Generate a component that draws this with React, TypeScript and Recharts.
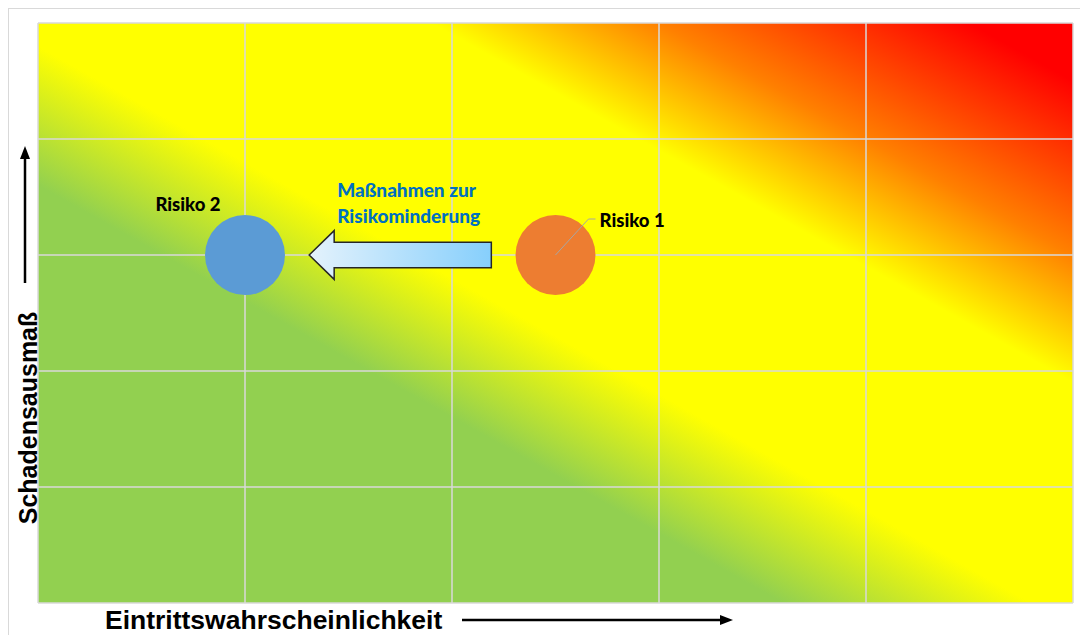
import { CartesianGrid, ReferenceArea, Scatter, ScatterChart, XAxis, YAxis } from "recharts";

const gridTicks = [0, 1, 2, 3, 4, 5];
const risk1 = [{ x: 2.5, y: 3, name: "Risiko 1" }];
const risk2 = [{ x: 1, y: 3, name: "Risiko 2" }];
const arrowX = [1.31, 2.19];
const arrowY = [2.79, 3.21];
const measureLines = ["Maßnahmen zur", "Risikominderung"];
const xTitle = "Eintrittswahrscheinlichkeit";
const yTitle = "Schadensausmaß";

const labelFont = "Lato, 'Open Sans', sans-serif";

function RiskBubble(props: any) {
  const { cx, cy, payload, fill, side } = props;
  return (
    <g>
      <circle cx={cx} cy={cy} r={40} fill={fill} />
      {side === "right" ? (
        <>
          <polyline
            points={`${cx},${cy} ${cx + 33},${cy - 36} ${cx + 40},${cy - 36}`}
            fill="none"
            stroke="#a6a6a6"
            strokeWidth={1}
          />
          <text x={cx + 44} y={cy - 28} fontFamily={labelFont} fontWeight={900} fontSize={18.5} fill="#000">
            {payload.name}
          </text>
        </>
      ) : (
        <text x={cx - 57} y={cy - 44} textAnchor="middle" fontFamily={labelFont} fontWeight={900} fontSize={18.5} fill="#000">
          {payload.name}
        </text>
      )}
    </g>
  );
}

function BlockArrow(props: any) {
  const { x, y, width, height } = props;
  const hl = 25;
  const st = y + height * 0.24;
  const sb = y + height * 0.76;
  const d = `M${x},${y + height / 2} L${x + hl},${y} L${x + hl},${st} L${x + width},${st} L${x + width},${sb} L${x + hl},${sb} L${x + hl},${y + height} Z`;
  return (
    <g>
      <path d={d} fill="url(#arrowGrad)" stroke="#262626" strokeWidth={1.5} strokeLinejoin="miter" />
      {measureLines.map((line, i) => (
        <text
          key={line}
          x={x + 28}
          y={y - 34 + i * 26}
          fontFamily={labelFont}
          fontWeight={900}
          fontSize={19}
          fill="#0070c0"
        >
          {line}
        </text>
      ))}
    </g>
  );
}

export default function App() {
  return (
    <div
      style={{
        position: "relative",
        width: 1100,
        height: 640,
        borderTop: "1px solid #d9d9d9",
        borderLeft: "1px solid #d9d9d9",
        overflow: "visible",
      }}
    >
      <div style={{ position: "absolute", left: -9, top: -9 }}>
        <ScatterChart width={1088} height={635} margin={{ top: 23, right: 15, bottom: 32, left: 38 }}>
          <defs>
            <linearGradient id="riskGrad" x1="0" y1="1" x2="1" y2="0">
              <stop offset="0" stopColor="#92d050" />
              <stop offset="0.36" stopColor="#92d050" />
              <stop offset="0.48" stopColor="#ffff00" />
              <stop offset="0.69" stopColor="#ffff00" />
              <stop offset="0.8" stopColor="#ff8000" />
              <stop offset="0.95" stopColor="#ff0000" />
              <stop offset="1" stopColor="#ff0000" />
            </linearGradient>
            <linearGradient id="arrowGrad" x1="0" y1="0" x2="1" y2="0">
              <stop offset="0" stopColor="#e4f2fc" />
              <stop offset="1" stopColor="#86cffc" />
            </linearGradient>
          </defs>
          <CartesianGrid
            fill="url(#riskGrad)"
            fillOpacity={1}
            stroke="#d9d9d9"
            strokeWidth={1.5}
          />
          <XAxis type="number" dataKey="x" domain={[0, 5]} ticks={gridTicks} hide />
          <YAxis type="number" dataKey="y" domain={[0, 5]} ticks={gridTicks} hide />
          <ReferenceArea
            x1={arrowX[0]}
            x2={arrowX[1]}
            y1={arrowY[0]}
            y2={arrowY[1]}
            shape={(p: any) => <BlockArrow {...p} />}
          />
          <Scatter
            data={risk1}
            fill="#ed7d31"
            isAnimationActive={false}
            shape={(p: any) => <RiskBubble {...p} fill="#ed7d31" side="right" />}
          />
          <Scatter
            data={risk2}
            fill="#5b9bd5"
            isAnimationActive={false}
            shape={(p: any) => <RiskBubble {...p} fill="#5b9bd5" side="left" />}
          />
        </ScatterChart>
      </div>
      <svg
        width={1088}
        height={635}
        style={{ position: "absolute", left: -9, top: -9, pointerEvents: "none" }}
      >
        <text
          x={105}
          y={629}
          fontFamily="'Liberation Sans', Arial, sans-serif"
          fontWeight={700}
          fontSize={26.5}
          fill="#000"
        >
          {xTitle}
        </text>
        <line x1={462} y1={620} x2={722} y2={620} stroke="#000" strokeWidth={2.5} />
        <polygon points="733,620 720,615 720,625" fill="#000" />
        <text
          transform="translate(37,418) rotate(-90)"
          textAnchor="middle"
          fontFamily="'Liberation Sans', Arial, sans-serif"
          fontWeight={700}
          fontSize={25}
          fill="#000"
        >
          {yTitle}
        </text>
        <line x1={25} y1={283} x2={25} y2={158} stroke="#000" strokeWidth={2.5} />
        <polygon points="25,146 20,159 30,159" fill="#000" />
      </svg>
    </div>
  );
}
